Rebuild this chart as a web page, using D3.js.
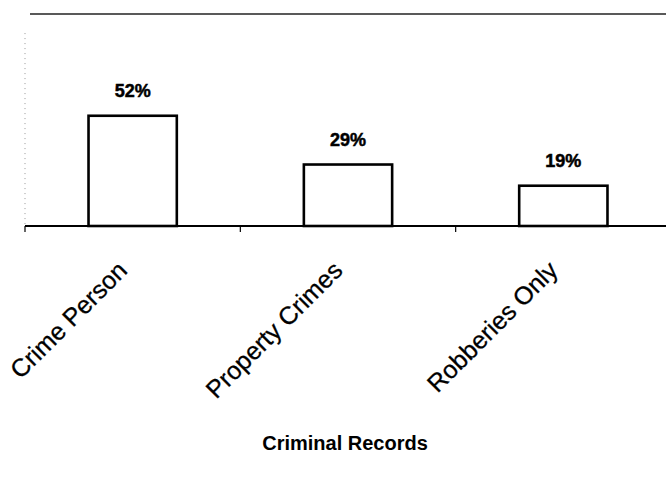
<!DOCTYPE html>
<html lang="en">
<head>
    <meta charset="UTF-8">
    <title>Criminal Records</title>
    <style>
        body{ margin:0; background:#fff; }
        svg{ display:block; font-family: Arial, "Liberation Sans", sans-serif; }
    </style>
    <script src="https://cdn.jsdelivr.net/npm/d3@7"></script>
</head>
<body>
    <script>
        // data
        const categories = ["Crime Person", "Property Crimes", "Robberies Only"];
        const percents = [52, 29, 19];
        const valueLabels = ["52%", "29%", "19%"];
        const xTitle = "Criminal Records";

        const width = 666, height = 480;
        const margins = { top: 15, bottom: 254, left: 25, right: 0 };

        const svg = d3.select("body").append("svg")
            .attr("width", width)
            .attr("height", height);

        const baseY = height - margins.bottom;   // 226

        //band scale for the three groups
        const xScale = d3.scaleBand()
            .domain(categories)
            .range([margins.left, 671])
            .paddingInner(0.59)
            .paddingOuter(0.295);

        const yScale = d3.scaleLinear()
            .domain([0, 100])
            .range([baseY, margins.top - 1]);

        const step = xScale.step();

        // frame line on top
        svg.append("line")
            .attr("x1", 30).attr("x2", width)
            .attr("y1", yScale(100)).attr("y2", yScale(100))
            .attr("stroke", "#222").attr("stroke-width", 1.4);

        // faint dotted left axis
        svg.append("line")
            .attr("x1", margins.left).attr("x2", margins.left)
            .attr("y1", yScale(91)).attr("y2", baseY)
            .attr("stroke", "#999").attr("stroke-width", 1)
            .attr("stroke-dasharray", "1,4");

        //bars
        const data = categories.map((c, i) => ({ cat: c, v: percents[i], label: valueLabels[i] }));

        svg.append("g").attr("class", "bars")
            .selectAll("rect")
            .data(data)
            .enter()
            .append("rect")
            .attr("x", d => xScale(d.cat))
            .attr("y", d => yScale(d.v))
            .attr("width", xScale.bandwidth())
            .attr("height", d => baseY - yScale(d.v))
            .attr("fill", "#fff")
            .attr("stroke", "#000")
            .attr("stroke-width", 2.6);

        // value labels
        svg.append("g").attr("class", "values")
            .selectAll("text")
            .data(data)
            .enter()
            .append("text")
            .attr("x", d => xScale(d.cat) + xScale.bandwidth() / 2)
            .attr("y", d => yScale(d.v) - 19)
            .attr("text-anchor", "middle")
            .style("font-size", "18px")
            .style("font-weight", "bold")
            .style("stroke", "#000").style("stroke-width", 0.5)
            .text(d => d.label);

        // x axis line and ticks between groups
        svg.append("line")
            .attr("x1", margins.left).attr("x2", width)
            .attr("y1", baseY).attr("y2", baseY)
            .attr("stroke", "#000").attr("stroke-width", 2);

        svg.append("g").attr("class", "ticks")
            .selectAll("line")
            .data(categories)
            .enter()
            .append("line")
            .attr("x1", d => xScale(d) - step * 0.295)
            .attr("x2", d => xScale(d) - step * 0.295)
            .attr("y1", baseY)
            .attr("y2", baseY + 6)
            .attr("stroke", "#000").attr("stroke-width", 1.2);

        // rotated category labels
        svg.append("g").attr("class", "cats")
            .selectAll("text")
            .data(categories)
            .enter()
            .append("text")
            .attr("transform", d => `translate(${xScale(d) + xScale.bandwidth() / 2 - 4},${baseY + 46}) rotate(-45)`)
            .attr("text-anchor", "end")
            .style("font-size", "25px")
            .style("stroke", "#000").style("stroke-width", 0.3)
            .text(d => d);

        // x title
        svg.append("text")
            .attr("x", 345)
            .attr("y", 450)
            .attr("text-anchor", "middle")
            .style("font-size", "20px")
            .style("font-weight", "bold")
            .text(xTitle);
    </script>
</body>
</html>
